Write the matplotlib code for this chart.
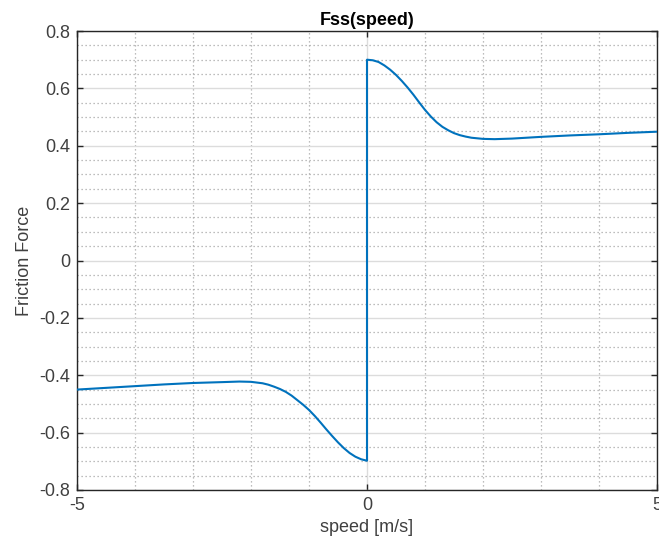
import matplotlib
matplotlib.use('Agg')
import matplotlib.pyplot as plt
from matplotlib.ticker import MultipleLocator

plt.rcParams['font.family'] = ['Liberation Sans', 'DejaVu Sans']
plt.rcParams['axes.unicode_minus'] = False

# 읽어낸 곡선 값 (음의 속도 구간 -> 0에서 점프 -> 양의 속도 구간)
speed_neg = [-5.0, -4.5, -4.0, -3.5, -3.0, -2.5, -2.2, -2.0, -1.8, -1.7, -1.6,
             -1.5, -1.4, -1.3, -1.2, -1.1, -1.0, -0.9, -0.8, -0.7, -0.6, -0.5,
             -0.4, -0.3, -0.2, -0.1, 0.0]
force_neg = [-0.450, -0.444, -0.438, -0.432, -0.427, -0.424, -0.422, -0.423,
             -0.428, -0.433, -0.440, -0.448, -0.458, -0.471, -0.487, -0.503,
             -0.521, -0.542, -0.565, -0.589, -0.612, -0.634, -0.654, -0.671,
             -0.684, -0.693, -0.698]
speed_pos = [0.0, 0.1, 0.2, 0.3, 0.4, 0.5, 0.6, 0.7, 0.8, 0.9, 1.0, 1.1, 1.2,
             1.3, 1.4, 1.5, 1.6, 1.7, 1.8, 1.9, 2.0, 2.2, 2.5, 3.0, 3.5, 4.0,
             4.5, 5.0]
force_pos = [0.700, 0.698, 0.692, 0.680, 0.665, 0.647, 0.626, 0.603, 0.578,
             0.551, 0.525, 0.502, 0.482, 0.466, 0.454, 0.444, 0.437, 0.432,
             0.428, 0.426, 0.424, 0.423, 0.425, 0.431, 0.436, 0.440, 0.445,
             0.449]

x_ticks = [-5, 0, 5]
y_ticks = [-0.8, -0.6, -0.4, -0.2, 0, 0.2, 0.4, 0.6, 0.8]
y_labels = ['-0.8', '-0.6', '-0.4', '-0.2', '0', '0.2', '0.4', '0.6', '0.8']

fig = plt.figure(figsize=(6.59, 5.49), dpi=100)
ax = fig.add_axes([0.1168, 0.1075, 0.8802, 0.836])

speed = speed_neg + speed_pos
force = force_neg + force_pos
ax.plot(speed, force, color='#0072BD', linewidth=1.5, zorder=3)

ax.set_xlim(-5, 5)
ax.set_ylim(-0.8, 0.8)
ax.set_xticks(x_ticks)
ax.set_xticklabels([str(t) for t in x_ticks])
ax.set_yticks(y_ticks)
ax.set_yticklabels(y_labels)
ax.xaxis.set_minor_locator(MultipleLocator(1))
ax.yaxis.set_minor_locator(MultipleLocator(0.05))

# MATLAB 스타일 그리드
ax.grid(True, which='major', color='#dcdcdc', linewidth=1.0, linestyle='-')
ax.grid(True, which='minor', color='#a8a8a8', linewidth=0.9, linestyle=(0, (1, 2.2)))
ax.set_axisbelow(True)

ax.tick_params(which='major', direction='in', length=4, width=1, colors='#262626',
               top=True, right=True, labelsize=13, pad=5)
ax.tick_params(which='minor', length=0)
for s in ax.spines.values():
    s.set_color('#262626')
    s.set_linewidth(1.0)
for lbl in ax.get_xticklabels() + ax.get_yticklabels():
    lbl.set_color('#404040')

ax.set_xlabel('speed [m/s]', fontsize=13, color='#404040', labelpad=4)
ax.set_ylabel('Friction Force', fontsize=13, color='#404040', labelpad=4)
ax.set_title('Fss(speed)', fontsize=13, fontweight='bold', color='black', pad=4)

fig.savefig('out.png', dpi=100)
